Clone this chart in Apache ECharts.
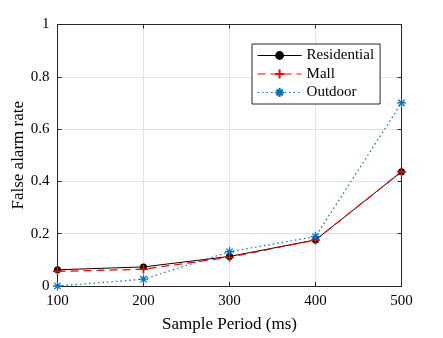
<!DOCTYPE html>
<html>
<head>
<meta charset="utf-8">
<script src="https://cdn.jsdelivr.net/npm/echarts@6/dist/echarts.min.js"></script>
<style>
  html, body { margin: 0; padding: 0; background: #fff; }
  #main { width: 443px; height: 338px; }
</style>
</head>
<body>
<div id="main"></div>
<script>
// sample periods (ms)
var periods = [100, 200, 300, 400, 500];
// false alarm rate per site
var residential = [0.062, 0.073, 0.113, 0.176, 0.437];
var mall = [0.056, 0.064, 0.110, 0.176, 0.437];
var outdoor = [0, 0.026, 0.131, 0.189, 0.700];

var font = "'Liberation Serif', 'Times New Roman', serif";
var axisColor = '#262626';
var plusPath = 'path://M0,5L10,5M5,0L5,10';
var starPath = 'path://M0,5L10,5M5,0L5,10M1.5,1.5L8.5,8.5M1.5,8.5L8.5,1.5';

function pairs(ys) {
    return periods.map(function (x, i) { return [x, ys[i]]; });
}

var myChart = echarts.init(document.getElementById('main'));

var boxAxis = {
    axisLine: { show: true, onZero: false, lineStyle: { color: axisColor, width: 1 } },
    axisTick: { show: true, inside: true, length: 4, lineStyle: { color: axisColor } },
    axisLabel: { show: false },
    splitLine: { show: false }
};

var option = {
    animation: false,
    grid: { left: 57.5, right: 41.5, top: 24.5, bottom: 52, outerBoundsMode: 'none', containLabel: false },
    legend: {
        orient: 'vertical',
        left: 252,
        top: 44,
        width: 129,
        padding: [4, 6, 4, 5],
        itemWidth: 44,
        itemHeight: 11,
        itemGap: 3.5,
        borderColor: axisColor,
        borderWidth: 1,
        backgroundColor: '#fff',
        lineStyle: { width: 1.2 },
        textStyle: { fontFamily: font, fontSize: 15, lineHeight: 15, color: '#000' },
        data: ['Residential', 'Mall', 'Outdoor']
    },
    xAxis: [
        Object.assign({
            type: 'value', min: 100, max: 500, interval: 100,
            name: 'Sample Period (ms)', nameLocation: 'middle', nameGap: 30,
            nameMoveOverlap: false,
            nameTextStyle: { fontFamily: font, fontSize: 17, color: '#000' }
        }, boxAxis, {
            axisLabel: { show: true, margin: 8, fontFamily: font, fontSize: 15, color: '#000' },
            splitLine: { show: true, lineStyle: { color: '#e3e3e3', width: 1 } }
        }),
        Object.assign({ type: 'value', min: 100, max: 500, interval: 100, position: 'top' }, boxAxis)
    ],
    yAxis: [
        Object.assign({
            type: 'value', min: 0, max: 1, interval: 0.2,
            name: 'False alarm rate', nameLocation: 'middle', nameGap: 30,
            nameMoveOverlap: false,
            nameTextStyle: { fontFamily: font, fontSize: 17, color: '#000' }
        }, boxAxis, {
            axisLabel: { show: true, margin: 8, fontFamily: font, fontSize: 15, color: '#000' },
            splitLine: { show: true, lineStyle: { color: '#e3e3e3', width: 1 } }
        }),
        Object.assign({ type: 'value', min: 0, max: 1, interval: 0.2, position: 'right' }, boxAxis)
    ],
    series: [
        {
            name: 'Residential',
            type: 'line',
            data: pairs(residential),
            symbol: 'circle',
            symbolSize: 7,
            lineStyle: { color: '#000', width: 1 },
            itemStyle: { color: '#000' }
        },
        {
            name: 'Mall',
            type: 'line',
            data: pairs(mall),
            symbol: plusPath,
            symbolSize: 9,
            lineStyle: { color: '#ff0000', width: 1.2, type: [8, 5] },
            itemStyle: { color: '#ff0000', borderColor: '#ff0000', borderWidth: 1.5 }
        },
        {
            name: 'Outdoor',
            type: 'line',
            data: pairs(outdoor),
            symbol: starPath,
            symbolSize: 9,
            lineStyle: { color: '#0072bd', width: 1.2, type: [1.5, 3] },
            itemStyle: { color: '#0072bd', borderColor: '#0072bd', borderWidth: 1.3 }
        }
    ]
};

myChart.setOption(option);
</script>
</body>
</html>
